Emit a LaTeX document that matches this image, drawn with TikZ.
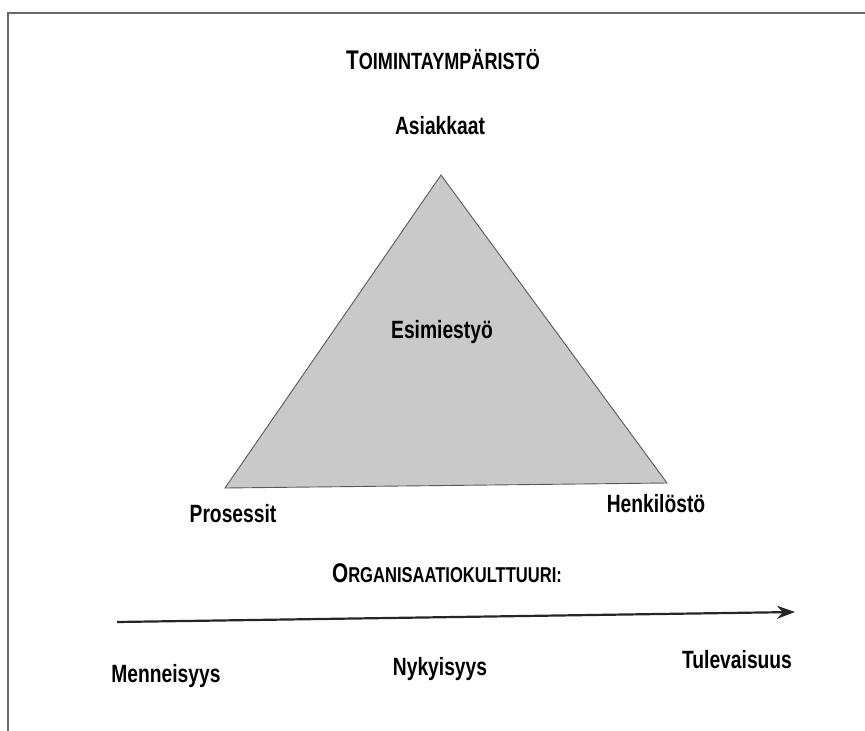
\documentclass[tikz,border=0pt]{standalone}
\usepackage{fontspec}
\setmainfont{Liberation Sans}[FakeStretch=0.77]
\usetikzlibrary{arrows.meta,positioning}

\newcommand{\capsize}{\fontsize{25}{29}\selectfont}
\newcommand{\smcsize}{\fontsize{23.5}{27}\selectfont}

\begin{document}
\begin{tikzpicture}[x=1pt,y=-1pt,>=Stealth,
 lbl/.style={font=\capsize\bfseries,inner sep=1pt},
 head/.style={font=\bfseries,inner sep=1pt},
 frame/.style={draw=black!58,line width=1.4pt}]
\useasboundingbox (0,0) rectangle (865,731);
% page frame
\draw[frame] (8,731) -- (8,13) -- (865,13);
% triangle
\coordinate (apex) at (441,175);
\coordinate (left) at (225,488);
\coordinate (right) at (667,483);
\draw[draw=black!65,line width=0.9pt,fill={rgb,255:red,201;green,201;blue,201}]
 (apex) -- (left) -- (right) -- cycle;
\node[head] (env) at (443,60) {{\fontsize{27}{31}\selectfont T}{\smcsize OIMINTAYMPÄRISTÖ}};
\node[lbl] (cust) at (440,126) {Asiakkaat};
\node[lbl] (lead) at (442,332) {Esimiestyö};
\node[lbl] (proc) at (233,514) {Prosessit};
\node[lbl] (staff) at (656,504) {Henkilöstö};
\node[head] (cult) at (447,573) {{\fontsize{27}{31}\selectfont O}{\fontsize{21.5}{25}\selectfont RGANISAATIOKULTTUURI:}};
% time axis
\coordinate (t0) at (117,622);
\coordinate (t1) at (795,612);
\draw[line width=2.2pt,black!85,-{Stealth[length=18pt,width=13pt]}] (t0) -- (t1);
\node[lbl] (past) at (166,676) {Menneisyys};
\node[lbl] (now) at (440,669) {Nykyisyys};
\node[lbl] (future) at (737,660) {Tulevaisuus};
\end{tikzpicture}
\end{document}
